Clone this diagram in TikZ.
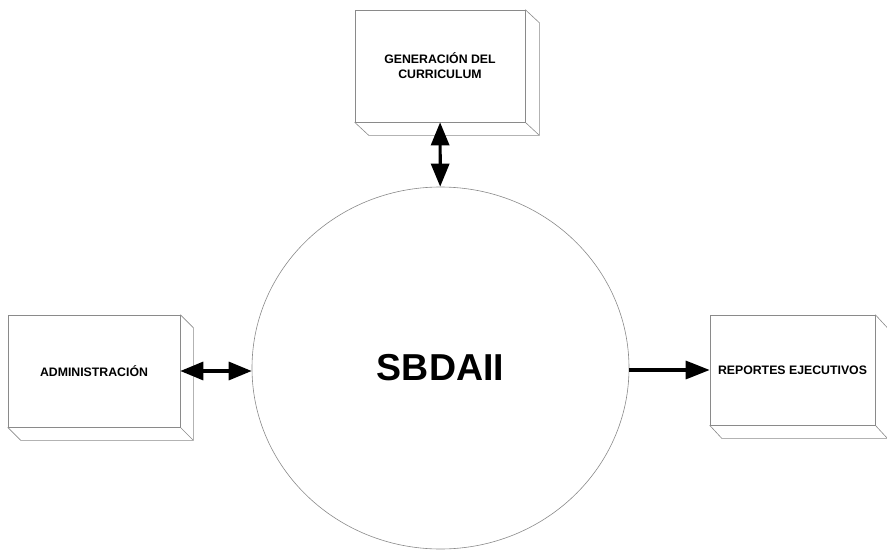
\documentclass[tikz,border=0pt]{standalone}
\usepackage{fontspec}
\setmainfont{Liberation Sans}
\usetikzlibrary{shapes.geometric,arrows.meta,calc}
\definecolor{linegray}{HTML}{8A8A8A}
\newcommand\extrude[3]{%
  \draw[boxline] (#1.north east) -- ++(#2,#3) -- ($(#1.south east)+(#2,#3)$) -- ($(#1.south west)+(#2,#3)$) -- (#1.south west);
  \draw[boxline] (#1.south east) -- ++(#2,#3);
}
\tikzset{
  boxline/.style={draw=linegray, line width=0.6pt},
  procbox/.style={boxline, rectangle, inner sep=0pt, align=center,
    font=\bfseries\fontsize{12.3}{15}\selectfont},
  flow/.style={line width=3.2pt, -{Triangle[length=24pt,width=18pt]}},
  dflow/.style={line width=3.2pt, {Triangle[length=23pt,width=18pt]}-{Triangle[length=23pt,width=18pt]}},
}
\begin{document}
\begin{tikzpicture}[x=1pt,y=-1pt]
\useasboundingbox (0,0) rectangle (887,551);
\node[boxline, ellipse, minimum width=377pt, minimum height=362pt, inner sep=0pt,
  font=\bfseries\fontsize{37.5}{42}\selectfont] (c) at (440.5,368) {SBDAII};
\node[procbox, minimum width=170pt, minimum height=112pt] (g) at (440,66) {GENERACIÓN DEL\\CURRICULUM};
\node[procbox, minimum width=172pt, minimum height=112pt] (a) at (94,371) {ADMINISTRACIÓN};
\node[procbox, minimum width=165pt, minimum height=110pt] (r) at (792.5,370) {REPORTES EJECUTIVOS};
\extrude{g}{14}{13}
\extrude{a}{13}{13}
\extrude{r}{12}{13}
\draw[dflow] (g) -- (c);
\draw[dflow] (a.east) -- (c.west |- a.east);
\draw[flow] (c.east |- r.west) -- (r.west);
\end{tikzpicture}
\end{document}
